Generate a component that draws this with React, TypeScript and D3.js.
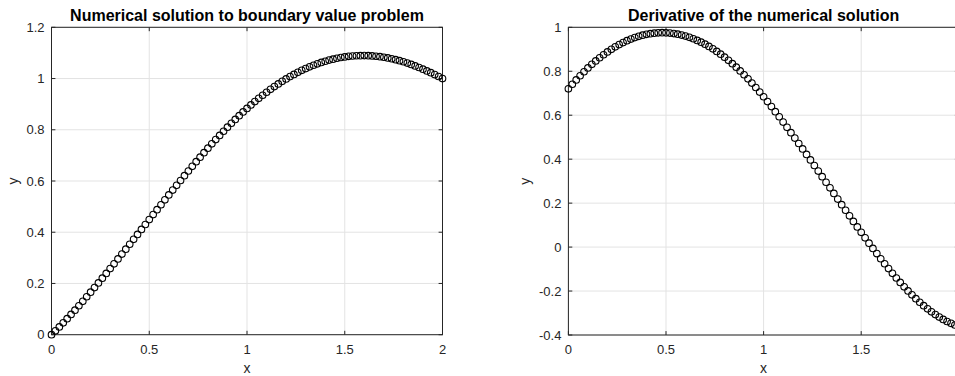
import React from 'react';
import * as d3 from 'd3';

const xs = [
  0, 0.02, 0.04, 0.06, 0.08, 0.1, 0.12, 0.14, 0.16, 0.18,
  0.2, 0.22, 0.24, 0.26, 0.28, 0.3, 0.32, 0.34, 0.36, 0.38,
  0.4, 0.42, 0.44, 0.46, 0.48, 0.5, 0.52, 0.54, 0.56, 0.58,
  0.6, 0.62, 0.64, 0.66, 0.68, 0.7, 0.72, 0.74, 0.76, 0.78,
  0.8, 0.82, 0.84, 0.86, 0.88, 0.9, 0.92, 0.94, 0.96, 0.98,
  1.0, 1.02, 1.04, 1.06, 1.08, 1.1, 1.12, 1.14, 1.16, 1.18,
  1.2, 1.22, 1.24, 1.26, 1.28, 1.3, 1.32, 1.34, 1.36, 1.38,
  1.4, 1.42, 1.44, 1.46, 1.48, 1.5, 1.52, 1.54, 1.56, 1.58,
  1.6, 1.62, 1.64, 1.66, 1.68, 1.7, 1.72, 1.74, 1.76, 1.78,
  1.8, 1.82, 1.84, 1.86, 1.88, 1.9, 1.92, 1.94, 1.96, 1.98,
  2.0,
];

const solution = [
  0, 0.015, 0.0304, 0.0462, 0.0624,
  0.079, 0.0959, 0.113, 0.1304, 0.1481,
  0.166, 0.1841, 0.2023, 0.2207, 0.2393,
  0.258, 0.2768, 0.2958, 0.3148, 0.3338,
  0.353, 0.3723, 0.3916, 0.4109, 0.4302,
  0.4495, 0.4688, 0.4881, 0.5073, 0.5264,
  0.5455, 0.5645, 0.5833, 0.602, 0.6206,
  0.639, 0.6572, 0.6753, 0.6931, 0.7106,
  0.728, 0.745, 0.7617, 0.7781, 0.7942,
  0.81, 0.8255, 0.8405, 0.8552, 0.8696,
  0.8835, 0.897, 0.91, 0.9226, 0.9348,
  0.9465, 0.9578, 0.9687, 0.9791, 0.989,
  0.9985, 1.0076, 1.0161, 1.0242, 1.0319,
  1.039, 1.0457, 1.0518, 1.0575, 1.0628,
  1.0675, 1.0719, 1.0757, 1.0791, 1.0821,
  1.0845, 1.0865, 1.0879, 1.0889, 1.0894,
  1.0895, 1.0891, 1.0883, 1.087, 1.0852,
  1.083, 1.0804, 1.0773, 1.0738, 1.0699,
  1.0655, 1.0605, 1.055, 1.0492, 1.0431,
  1.0365, 1.0298, 1.0228, 1.0155, 1.0079,
  1.0,
];

const derivative = [
  0.72, 0.7408, 0.7606, 0.7796, 0.7978,
  0.815, 0.8314, 0.8468, 0.8614, 0.8752,
  0.888, 0.9, 0.911, 0.9212, 0.9306,
  0.939, 0.9466, 0.9532, 0.959, 0.964,
  0.968, 0.9712, 0.9734, 0.9748, 0.9754,
  0.975, 0.9738, 0.9716, 0.9686, 0.9648,
  0.96, 0.9544, 0.9478, 0.9404, 0.9322,
  0.923, 0.913, 0.902, 0.8902, 0.8776,
  0.864, 0.8496, 0.8345, 0.8185, 0.8016,
  0.784, 0.7654, 0.7461, 0.7261, 0.7054,
  0.684, 0.6619, 0.6393, 0.6163, 0.5929,
  0.569, 0.5449, 0.5207, 0.4962, 0.4714,
  0.4465, 0.4215, 0.3964, 0.3712, 0.3459,
  0.3205, 0.295, 0.2695, 0.244, 0.2185,
  0.193, 0.1675, 0.1421, 0.1169, 0.0919,
  0.067, 0.0423, 0.0179, -0.0061, -0.0297,
  -0.053, -0.0758, -0.098, -0.1196, -0.1406,
  -0.161, -0.1806, -0.1994, -0.2174, -0.2346,
  -0.251, -0.2664, -0.2809, -0.2944, -0.3069,
  -0.3185, -0.329, -0.3385, -0.347, -0.3545,
  -0.361,
];

const xTicks = [0, 0.5, 1, 1.5, 2];
const xTickLabels = ['0', '0.5', '1', '1.5', '2'];
const solutionTicks = [0, 0.2, 0.4, 0.6, 0.8, 1, 1.2];
const solutionTickLabels = ['0', '0.2', '0.4', '0.6', '0.8', '1', '1.2'];
const derivativeTicks = [-0.4, -0.2, 0, 0.2, 0.4, 0.6, 0.8, 1];
const derivativeTickLabels = ['-0.4', '-0.2', '0', '0.2', '0.4', '0.6', '0.8', '1'];

const FONT = '"Liberation Sans", Arial, Helvetica, sans-serif';
const AXIS = '#262626';
const GRID = '#e3e3e3';
const WIDTH = 955;
const HEIGHT = 376;

type PanelProps = {
  x0: number; x1: number; y0: number; y1: number;
  yDomain: [number, number];
  yTicks: number[]; yTickLabels: string[];
  values: number[];
  title: string;
  yLabelX: number;
};

function Panel({ x0, x1, y0, y1, yDomain, yTicks, yTickLabels, values, title, yLabelX }: PanelProps) {
  const xScale = d3.scaleLinear().domain([0, 2]).range([x0, x1]);
  const yScale = d3.scaleLinear().domain(yDomain).range([y1, y0]);
  const tl = 3.9;
  const cx = (x0 + x1) / 2;
  const cy = (y0 + y1) / 2;
  return (
    <g>
      {xTicks.map((t) => (
        <line key={'gx' + t} x1={xScale(t)} x2={xScale(t)} y1={y0} y2={y1} stroke={GRID} strokeWidth={1} />
      ))}
      {yTicks.map((t) => (
        <line key={'gy' + t} x1={x0} x2={x1} y1={yScale(t)} y2={yScale(t)} stroke={GRID} strokeWidth={1} />
      ))}
      {xTicks.map((t) => (
        <g key={'tx' + t}>
          <line x1={xScale(t)} x2={xScale(t)} y1={y1} y2={y1 - tl} stroke={AXIS} strokeWidth={1} />
          <line x1={xScale(t)} x2={xScale(t)} y1={y0} y2={y0 + tl} stroke={AXIS} strokeWidth={1} />
        </g>
      ))}
      {yTicks.map((t) => (
        <g key={'ty' + t}>
          <line x1={x0} x2={x0 + tl} y1={yScale(t)} y2={yScale(t)} stroke={AXIS} strokeWidth={1} />
          <line x1={x1} x2={x1 - tl} y1={yScale(t)} y2={yScale(t)} stroke={AXIS} strokeWidth={1} />
        </g>
      ))}
      <rect x={x0} y={y0} width={x1 - x0} height={y1 - y0} fill="none" stroke={AXIS} strokeWidth={1} />
      {values.map((v, i) => (
        <circle key={'c' + i} cx={xScale(xs[i])} cy={yScale(v)} r={3.3} fill="none" stroke="#000" strokeWidth={1.1} />
      ))}
      {xTicks.map((t, i) =>
        xScale(t) < WIDTH - 8 ? (
          <text key={'lx' + t} x={xScale(t)} y={y1 + 19} textAnchor="middle" fontSize={13} fill={AXIS} fontFamily={FONT}>
            {xTickLabels[i]}
          </text>
        ) : null
      )}
      {yTicks.map((t, i) => (
        <text key={'ly' + t} x={x0 - 7} y={yScale(t) + 4.5} textAnchor="end" fontSize={13} fill={AXIS} fontFamily={FONT}>
          {yTickLabels[i]}
        </text>
      ))}
      <text x={cx} y={y1 + 38} textAnchor="middle" fontSize={14} fill={AXIS} fontFamily={FONT}>x</text>
      <text transform={`translate(${yLabelX},${cy}) rotate(-90)`} textAnchor="middle" fontSize={14} fill={AXIS} fontFamily={FONT}>y</text>
      <text x={cx} y={y0 - 6} textAnchor="middle" fontSize={16} fontWeight="bold" fill="#000" fontFamily={FONT}>{title}</text>
    </g>
  );
}

export default function App() {
  return (
    <div style={{ position: 'absolute', left: 0, top: 0, width: WIDTH, height: HEIGHT, overflow: 'hidden', background: '#fff' }}>
      <svg width={WIDTH} height={HEIGHT} style={{ display: 'block' }}>
        <rect x={0} y={0} width={WIDTH} height={HEIGHT} fill="#fff" />
        <Panel x0={51.5} x1={442.5} y0={27.3} y1={334.7} yDomain={[0, 1.2]} yTicks={solutionTicks} yTickLabels={solutionTickLabels}
          values={solution} title="Numerical solution to boundary value problem" yLabelX={17.5} />
        <Panel x0={568.4} x1={958.8} y0={27.3} y1={335} yDomain={[-0.4, 1]} yTicks={derivativeTicks} yTickLabels={derivativeTickLabels}
          values={derivative} title="Derivative of the numerical solution" yLabelX={529.5} />
      </svg>
    </div>
  );
}
